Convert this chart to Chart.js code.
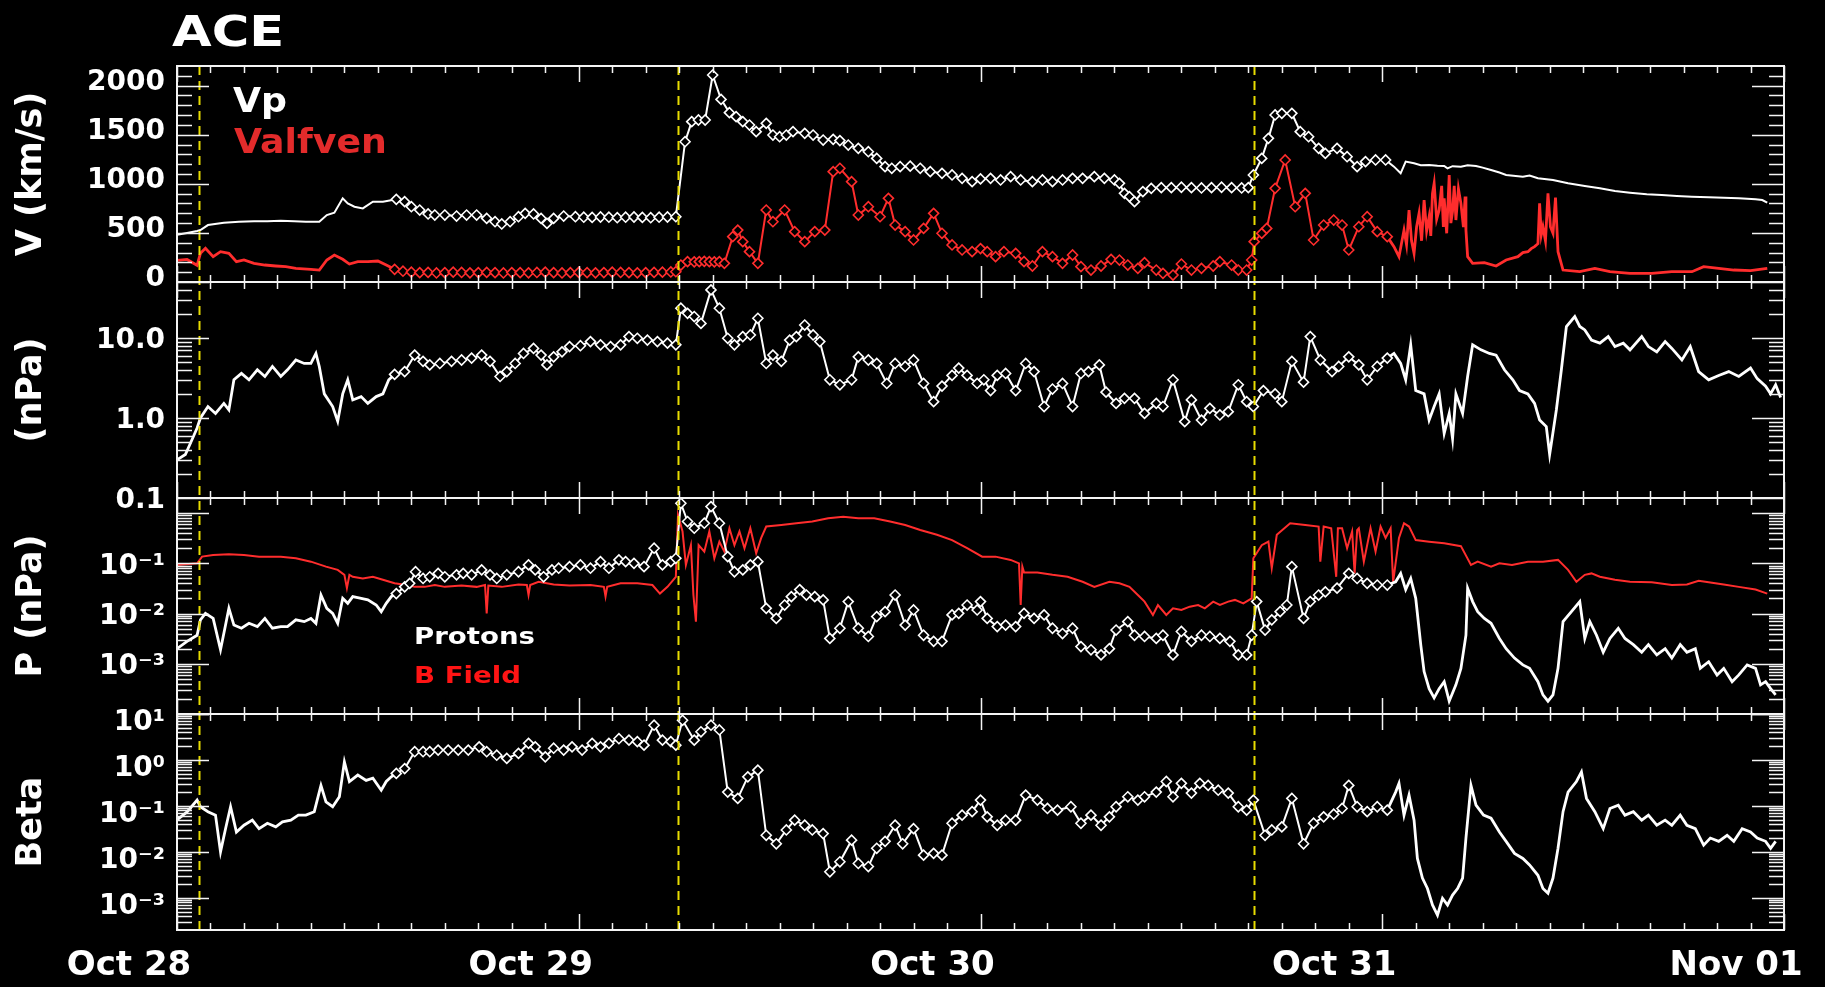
<!DOCTYPE html>
<html>
<head>
<meta charset="utf-8">
<title>ACE solar wind, 28 Oct - 1 Nov</title>
<script src="https://cdn.jsdelivr.net/npm/chart.js@4.4.1/dist/chart.umd.min.js"></script>
<style>
  html, body { margin: 0; padding: 0; background: #000; }
  #wrap { position: relative; width: 1825px; height: 987px; background: #000; }
  canvas { display: block; }
</style>
</head>
<body>
<div id="wrap"><canvas id="ace" width="1825" height="987" style="width:1825px;height:987px"></canvas></div>
<script>
// Time axis: hours since Oct 28 00:00 UT
const dayHours = [0, 24, 48, 72, 96];
const dayLabels = ['Oct 28', 'Oct 29', 'Oct 30', 'Oct 31', 'Nov 01'];

// Shock / discontinuity arrival times (hours)
const shockHours = [1.33, 29.9, 64.33];

// Interval in which the plotted samples carry diamond markers (hours)
const markedSpan = [12.95, 72.35];

// Proton bulk speed Vp (km/s): [hour, value]
const vpSamples = [
  [0,480],[0.6,500],[1.2,520],[1.4,530],[1.85,580],[2.8,604],[3.7,614],[4.6,620],[5.4,618],[6.2,625],[7.0,620],[7.7,614],[8.5,614],[8.95,682],[9.4,706],[9.9,852],[10.2,801],[10.6,767],[11.1,750],[11.7,818],[12.3,818],
  [13.1,842],[13.6,818],[14.0,767],[14.5,733],[15.0,693],[15.4,682],[16.0,682],[16.7,672],[17.3,682],[17.9,682],[18.5,648],[19.0,614],[19.4,591],[19.9,614],[20.4,665],[20.8,699],[21.3,693],[21.75,648],[22.1,597],[22.5,648],[23.1,672],[23.8,665],[24.3,660],[24.8,658],[25.3,662],[25.8,660],[26.3,655],[26.8,660],[27.3,662],[27.8,658],[28.3,655],[28.8,660],[29.3,662],[29.8,665],
  [30.35,1429],[30.75,1633],[31.15,1650],[31.55,1650],[32.0,2108],[32.5,1860],[33.0,1725],[33.4,1684],[33.8,1633],[34.2,1599],[34.6,1531],[35.2,1616],[35.6,1497],[36.0,1480],[36.4,1497],[36.8,1531],[37.5,1514],[38.0,1497],[38.6,1446],[39.2,1453],[39.6,1440],[40.1,1395],[40.7,1361],[41.3,1327],[41.8,1259],[42.3,1175],[42.7,1158],[43.2,1175],[43.8,1180],[44.4,1158],[45.0,1124],[45.7,1107],[46.3,1090],[46.9,1056],[47.5,1022],[48.0,1050],
  [48.6,1056],[49.2,1039],[49.8,1073],[50.4,1039],[51.1,1022],[51.7,1039],[52.3,1022],[52.9,1039],[53.5,1056],[54.1,1056],[54.8,1073],[55.4,1056],[56.0,1039],[56.3,1005],[56.6,903],[56.9,869],[57.2,818],[57.7,920],[58.2,954],[58.8,961],[59.4,961],[60.0,965],[60.6,961],[61.2,958],[61.8,961],[62.4,965],[63.0,961],[63.6,958],[64.0,961],[64.3,1090],
  [64.8,1259],[65.2,1463],[65.6,1701],[66.0,1718],[66.6,1718],[67.1,1531],[67.6,1480],[68.2,1361],[68.6,1310],[69.3,1361],[69.9,1276],[70.5,1175],[71.0,1226],[71.6,1243],[72.2,1243],
  [72.7,1175],[73.1,1107],[73.4,1226],[73.9,1209],[74.3,1190],[74.8,1192],[75.3,1185],[75.7,1182],[75.9,1158],[76.2,1180],[76.7,1175],[77.1,1190],[77.6,1182],[78.0,1165],[78.5,1141],[79.0,1115],[79.4,1090],[80.4,1073],[80.8,1085],[81.3,1056],[82.2,1039],[83.1,1005],[84.1,978],[85.0,954],[85.9,927],[86.8,910],[87.8,893],[88.7,886],[89.6,876],[90.5,869],[91.5,862],[92.4,859],[93.3,852],[94.3,842],[94.7,835],[95.0,808]
];

// Alfven speed (km/s): [hour, value]
const vaSamples = [
  [0,220],[0.6,230],[1.2,170],[1.4,292],[1.7,343],[2.16,258],[2.6,309],[3.1,292],[3.55,207],[4.0,224],[4.6,190],[5.25,173],[5.9,163],[6.5,156],[7.1,139],[8.0,129],[8.5,122],[8.95,224],[9.4,275],[9.9,231],[10.3,183],[10.8,207],[11.4,207],[12.0,214],[12.5,173],
  [13.0,129],[13.5,110],[14.0,100],[14.5,95],[15.0,98],[15.5,92],[16.0,95],[16.5,100],[17.0,97],[17.5,93],[18.0,95],[18.5,98],[19.0,95],[19.5,92],[20.0,96],[20.5,95],[21.0,93],[21.5,97],[22.0,100],[22.5,95],[23.0,92],[23.5,95],[24.0,98],[24.5,95],[25.0,93],[25.5,96],[26.0,100],[26.5,97],[27.0,95],[27.5,93],[28.0,95],[28.5,98],[29.0,100],[29.5,102],[29.8,105],
  [30.1,173],[30.5,207],[30.9,205],[31.2,207],[31.5,210],[31.8,207],[32.1,205],[32.4,207],[32.7,190],[33.2,462],[33.5,529],[33.8,411],[34.2,309],[34.7,190],[35.2,733],[35.6,614],[36.3,733],[36.9,513],[37.5,411],[38.1,513],[38.7,529],[39.2,1124],[39.6,1158],[40.3,1022],[40.7,682],[41.3,767],[42.0,665],[42.5,852],[42.9,580],[43.5,513],[44.0,428],[44.6,546],[45.2,699],[45.7,496],[46.3,377],[46.9,326],[47.5,309],[48.0,340],
  [48.4,309],[48.9,258],[49.4,309],[50.1,292],[50.6,207],[51.1,163],[51.7,309],[52.3,258],[52.9,190],[53.5,275],[54.0,156],[54.6,122],[55.2,163],[55.8,231],[56.3,224],[56.8,173],[57.4,139],[57.8,197],[58.5,122],[58.9,88],[59.5,71],[60.0,183],[60.6,122],[61.2,139],[61.9,163],[62.3,207],[63.0,173],[63.4,122],[63.9,122],[64.2,224],
  [64.35,411],[64.8,495],[65.1,546],[65.6,954],[66.2,1243],[66.8,767],[67.4,903],[67.9,428],[68.5,580],[69.1,631],[69.6,580],[70.0,326],[70.6,563],[71.1,665],[71.7,513],[72.3,462],
  [72.7,360],[73.0,258],[73.3,529],[73.45,380],[73.6,733],[73.75,420],[73.9,292],[74.05,560],[74.2,699],[74.35,420],[74.5,835],[74.65,520],[74.8,665],[74.9,470],[75.0,900],[75.1,1005],[75.25,640],[75.4,733],[75.55,980],[75.65,560],[75.7,852],[75.85,496],[76.0,1090],[76.1,600],[76.2,720],[76.3,980],[76.4,631],[76.55,950],[76.7,801],[76.85,560],[76.95,870],[77.0,529],[77.1,258],[77.4,190],[78.1,197],[78.8,163],[79.4,224],[80.1,258],[80.4,300],[80.7,309],[80.9,340],[81.1,360],[81.3,390],[81.4,801],[81.5,480],[81.6,563],[81.75,420],[81.9,903],[82.05,560],[82.2,496],[82.35,860],[82.5,309],[82.8,122],[83.8,105],[84.7,139],[85.6,105],[86.8,88],[88.1,88],[89.3,105],[90.5,105],[91.2,156],[92.1,139],[93.0,122],[94.0,115],[95.0,139]
];

// Total (dynamic) pressure (nPa): [hour, value]
const pdynSamples = [
  [0,0.30],[0.5,0.35],[1.0,0.6],[1.2,0.75],[1.4,1.0],[1.85,1.39],[2.3,1.14],[2.8,1.52],[3.1,1.26],[3.4,3.0],[3.85,3.6],[4.3,3.0],[4.8,4.0],[5.25,3.3],[5.7,4.4],[6.2,3.3],[6.6,4.0],[7.1,5.3],[7.6,4.8],[8.0,4.8],[8.3,6.4],[8.5,4.4],[8.8,2.0],[9.3,1.39],[9.6,0.91],[9.9,2.0],[10.2,3.0],[10.5,1.68],[11.0,1.85],[11.4,1.52],[11.9,1.85],[12.3,2.0],[12.65,3.0],
  [13.0,3.5],[13.6,3.8],[14.2,6.1],[14.7,5.1],[15.1,4.6],[15.7,4.8],[16.4,5.1],[17.0,5.3],[17.6,5.6],[18.2,6.1],[18.7,5.1],[19.3,3.3],[19.7,3.8],[20.2,4.8],[20.7,6.4],[21.3,7.4],[21.75,6.1],[22.1,4.6],[22.5,5.8],[23.0,6.7],[23.45,7.8],[24.1,8.0],[24.7,9.0],[25.3,8.2],[25.9,7.8],[26.5,8.2],[27.0,10.4],[27.5,9.9],[28.1,9.4],[28.7,9.0],[29.3,8.6],[29.8,8.2],
  [30.1,23.5],[30.5,20.3],[30.9,18.5],[31.3,15.2],[31.9,39.8],[32.4,23.5],[32.9,9.9],[33.3,8.2],[33.8,10.4],[34.25,10.9],[34.7,17.6],[35.2,4.8],[35.6,6.1],[36.1,5.1],[36.6,9.4],[37.0,10.4],[37.5,14.5],[38.0,10.9],[38.4,9.0],[39.0,3.0],[39.6,2.6],[40.3,3.0],[40.7,5.8],[41.3,5.3],[41.8,4.8],[42.4,2.7],[42.9,4.8],[43.5,4.4],[44.0,5.3],[44.6,2.7],[45.2,1.6],[45.7,2.5],[46.3,3.4],[46.7,4.2],[47.2,3.4],[47.8,2.7],
  [48.2,3.0],[48.6,2.2],[49.0,3.4],[49.5,3.6],[50.1,2.2],[50.7,4.8],[51.2,3.8],[51.8,1.39],[52.3,2.3],[52.9,2.7],[53.5,1.39],[54.0,3.6],[54.45,3.8],[55.1,4.6],[55.5,2.1],[56.1,1.52],[56.6,1.76],[57.2,1.76],[57.8,1.14],[58.5,1.52],[58.9,1.39],[59.5,3.0],[60.2,0.9],[60.6,1.68],[61.2,0.94],[61.7,1.32],[62.3,1.09],[62.8,1.2],[63.4,2.6],[63.9,1.6],[64.3,1.39],[64.9,2.2],[65.6,2.0],[66.0,1.6],[66.6,5.1],[67.3,2.8],[67.7,10.4],[68.3,5.3],[69.0,3.8],[69.4,4.4],[70.0,5.8],[70.6,4.6],[71.1,3.0],[71.7,4.4],[72.3,5.6],
  [72.7,6.4],[73.1,4.8],[73.4,3.0],[73.7,8.2],[74.0,2.2],[74.5,2.0],[74.8,0.94],[75.1,1.39],[75.4,2.0],[75.7,0.64],[76.0,1.14],[76.2,0.55],[76.4,2.0],[76.8,1.14],[77.1,3.3],[77.4,8.2],[77.9,7.1],[78.4,6.4],[78.8,6.1],[79.3,4.0],[79.8,3.0],[80.2,2.2],[80.7,2.0],[81.1,1.52],[81.4,0.94],[81.8,0.78],[82.0,0.35],[82.1,0.48],[82.4,1.26],[82.7,4.0],[83.0,13.9],[83.5,18.5],[83.8,13.9],[84.1,12.6],[84.5,9.4],[85.0,8.6],[85.5,10.4],[85.9,7.8],[86.4,8.6],[86.8,7.1],[87.5,10.4],[87.9,7.8],[88.4,6.7],[88.9,9.0],[89.3,7.4],[89.9,5.3],[90.4,7.8],[90.9,3.8],[91.5,3.0],[92.1,3.4],[92.7,3.8],[93.3,3.3],[94.0,4.2],[94.4,3.1],[94.9,2.5],[95.2,2.0],[95.5,2.6],[95.8,1.8]
];

// Proton thermal pressure (nPa): [hour, value]
const protonSamples = [
  [0,0.0020],[0.6,0.0028],[1.2,0.0037],[1.4,0.0075],[1.7,0.0101],[2.16,0.0080],[2.6,0.0019],[2.9,0.0059],[3.1,0.0127],[3.4,0.0059],[3.85,0.0051],[4.3,0.0064],[4.8,0.0055],[5.25,0.0080],[5.7,0.0051],[6.2,0.0055],[6.6,0.0055],[7.1,0.0075],[7.6,0.0069],[8.0,0.0080],[8.3,0.0064],[8.6,0.0234],[8.95,0.0127],[9.3,0.0101],[9.6,0.0064],[9.9,0.0201],[10.2,0.016],[10.5,0.0217],[11.0,0.0201],[11.4,0.0187],[11.9,0.0148],[12.2,0.0109],[12.5,0.016],[12.8,0.0217],
  [13.1,0.025],[13.6,0.034],[13.9,0.040],[14.25,0.068],[14.7,0.050],[15.1,0.054],[15.6,0.063],[16.0,0.054],[16.7,0.059],[17.1,0.063],[17.6,0.059],[18.2,0.074],[18.7,0.059],[19.1,0.050],[19.7,0.059],[20.4,0.068],[21.0,0.093],[21.4,0.074],[21.9,0.054],[22.4,0.074],[22.8,0.080],[23.45,0.086],[24.1,0.093],[24.7,0.080],[25.3,0.108],[25.8,0.080],[26.4,0.117],[26.8,0.108],[27.3,0.100],[27.9,0.086],[28.5,0.20],[29.0,0.093],[29.5,0.108],[29.8,0.126],
  [30.1,1.57],[30.5,0.68],[30.9,0.50],[31.5,0.63],[31.9,1.35],[32.4,0.63],[32.9,0.136],[33.3,0.068],[33.8,0.074],[34.25,0.093],[34.7,0.108],[35.2,0.0127],[35.8,0.0080],[36.3,0.0148],[36.7,0.0217],[37.2,0.030],[37.6,0.0234],[38.1,0.0217],[38.6,0.0187],[39.0,0.0032],[39.6,0.0051],[40.1,0.0173],[40.7,0.0051],[41.3,0.0035],[41.8,0.0087],[42.3,0.0109],[42.9,0.0234],[43.5,0.0059],[44.0,0.0118],[44.6,0.0037],[45.2,0.0028],[45.7,0.0028],[46.3,0.0094],[46.7,0.0101],[47.2,0.0148],[47.8,0.0118],[48.0,0.0173],
  [48.4,0.0080],[49.0,0.0055],[49.5,0.0059],[50.1,0.0055],[50.6,0.0101],[51.2,0.0080],[51.8,0.0094],[52.3,0.0051],[52.9,0.0040],[53.5,0.0051],[54.0,0.0022],[54.6,0.0019],[55.2,0.0015],[55.7,0.0020],[56.1,0.0047],[56.8,0.0069],[57.2,0.0037],[57.8,0.0035],[58.5,0.0032],[58.9,0.0037],[59.5,0.0015],[60.0,0.0044],[60.6,0.0028],[61.2,0.0037],[61.7,0.0035],[62.3,0.0032],[62.9,0.0028],[63.4,0.0015],[63.9,0.0015],[64.2,0.0037],[64.5,0.0173],[65.0,0.0047],[65.4,0.0075],[65.9,0.0109],[66.3,0.0148],[66.6,0.086],[67.3,0.0080],[67.7,0.0173],[68.2,0.0234],[68.6,0.027],[69.3,0.032],[70.0,0.063],[70.5,0.050],[71.1,0.040],[71.7,0.037],[72.3,0.037],
  [72.8,0.043],[73.1,0.063],[73.4,0.030],[73.7,0.050],[74.0,0.0201],[74.3,0.0024],[74.5,0.00070],[74.8,0.00032],[75.1,0.00021],[75.4,0.00032],[75.7,0.00044],[76.0,0.00018],[76.4,0.00038],[76.7,0.00081],[77.0,0.0037],[77.1,0.032],[77.4,0.0173],[77.7,0.0109],[78.1,0.0080],[78.5,0.0064],[79.0,0.0032],[79.4,0.0020],[79.9,0.0013],[80.4,0.00095],[80.8,0.00081],[81.3,0.00044],[81.6,0.00024],[81.9,0.00018],[82.2,0.00024],[82.5,0.00081],[82.8,0.0069],[83.3,0.0109],[83.8,0.0173],[84.1,0.0032],[84.4,0.0069],[84.8,0.0037],[85.2,0.0017],[85.6,0.0032],[86.1,0.0051],[86.5,0.0032],[87.0,0.0024],[87.5,0.0017],[87.9,0.0024],[88.4,0.0015],[88.9,0.0020],[89.3,0.0013],[89.8,0.0024],[90.2,0.0017],[90.7,0.0020],[91.0,0.00081],[91.5,0.0011],[92.0,0.00060],[92.4,0.00081],[92.9,0.00044],[93.3,0.00060],[93.8,0.00095],[94.3,0.00081],[94.6,0.00038],[94.9,0.00044],[95.2,0.00032],[95.5,0.00024]
];

// Magnetic pressure (nPa): [hour, value]
const bfieldSamples = [
  [0,0.093],[1.2,0.100],[1.5,0.136],[2.16,0.147],[3.1,0.152],[4.0,0.147],[4.9,0.136],[6.2,0.136],[7.1,0.126],[8.0,0.108],[8.9,0.086],[9.6,0.074],[10.0,0.059],[10.15,0.032],[10.3,0.059],[10.5,0.054],[11.1,0.050],[11.7,0.054],[12.3,0.047],[13.0,0.040],[13.7,0.037],[14.2,0.034],[14.8,0.034],[15.4,0.037],[16.0,0.034],[17.0,0.036],[17.9,0.034],[18.4,0.037],[18.5,0.0101],[18.6,0.036],[19.4,0.034],[20.4,0.038],[20.9,0.037],[21.0,0.0234],[21.1,0.037],[21.6,0.043],[22.5,0.038],[23.45,0.036],[24.7,0.037],[25.5,0.034],[25.6,0.0217],[25.7,0.034],[26.5,0.040],[27.5,0.040],[28.4,0.037],[28.85,0.025],[29.3,0.034],[29.8,0.054],
  [29.93,0.92],[30.2,0.43],[30.4,0.093],[30.7,0.23],[30.85,0.0234],[31.0,0.0069],[31.16,0.23],[31.5,0.171],[31.8,0.43],[32.1,0.126],[32.4,0.27],[32.7,0.171],[33.0,0.50],[33.3,0.23],[33.6,0.43],[33.9,0.20],[34.25,0.50],[34.6,0.159],[34.9,0.32],[35.2,0.54],[36.1,0.58],[37.0,0.63],[37.95,0.68],[38.9,0.79],[39.8,0.85],[40.7,0.79],[41.65,0.79],[42.6,0.68],[43.5,0.58],[44.4,0.46],[45.4,0.37],[46.3,0.29],[47.2,0.20],[48.1,0.136],
  [48.9,0.136],[49.8,0.117],[50.3,0.100],[50.4,0.0148],[50.5,0.086],[50.6,0.066],[51.4,0.066],[52.3,0.059],[53.2,0.054],[54.1,0.043],[54.8,0.034],[55.7,0.043],[56.3,0.040],[56.9,0.034],[57.4,0.0234],[57.8,0.0173],[58.3,0.0094],[58.6,0.0148],[59.1,0.0094],[59.5,0.0127],[60.0,0.0118],[60.5,0.0137],[61.0,0.0148],[61.4,0.0127],[61.9,0.0173],[62.3,0.0148],[62.8,0.0173],[63.2,0.0187],[63.7,0.016],[64.2,0.0201],
  [64.3,0.126],[64.8,0.23],[65.2,0.27],[65.4,0.080],[65.7,0.37],[66.5,0.63],[67.4,0.58],[68.2,0.54],[68.3,0.108],[68.5,0.54],[68.95,0.50],[69.25,0.054],[69.35,0.50],[69.6,0.50],[69.9,0.20],[70.2,0.43],[70.35,0.063],[70.5,0.46],[70.6,0.50],[70.9,0.108],[71.3,0.50],[71.6,0.171],[71.9,0.54],[72.2,0.32],[72.5,0.50],[72.65,0.043],[73.0,0.32],[73.3,0.63],[73.6,0.54],[74.0,0.29],[74.8,0.27],[75.7,0.25],[76.7,0.22],[77.3,0.093],[77.7,0.108],[78.5,0.086],[79.0,0.100],[79.75,0.093],[80.7,0.108],[81.6,0.108],[82.5,0.117],[83.1,0.074],[83.6,0.043],[84.1,0.059],[84.5,0.063],[85.0,0.054],[85.9,0.047],[86.8,0.043],[88.1,0.042],[89.3,0.037],[90.2,0.038],[90.9,0.045],[91.5,0.042],[92.4,0.038],[93.3,0.034],[94.3,0.030],[95.0,0.025]
];

// Plasma beta: [hour, value]
const betaSamples = [
  [0,0.050],[0.6,0.074],[1.2,0.134],[1.4,0.096],[1.85,0.075],[2.3,0.063],[2.6,0.010],[2.9,0.032],[3.2,0.096],[3.55,0.027],[4.0,0.038],[4.5,0.049],[4.9,0.032],[5.4,0.042],[5.9,0.035],[6.3,0.045],[6.8,0.049],[7.25,0.063],[7.7,0.063],[8.2,0.075],[8.6,0.28],[8.9,0.123],[9.3,0.096],[9.7,0.158],[10.0,0.91],[10.3,0.34],[10.8,0.47],[11.3,0.36],[11.7,0.40],[12.2,0.22],[12.5,0.34],[12.8,0.43],
  [13.1,0.51],[13.6,0.65],[14.2,1.51],[14.7,1.51],[15.1,1.51],[15.6,1.64],[16.2,1.64],[16.8,1.64],[17.4,1.64],[18.05,1.93],[18.5,1.51],[19.1,1.27],[19.7,1.08],[20.4,1.39],[21.0,2.3],[21.4,1.93],[22.0,1.17],[22.5,1.8],[23.1,1.64],[23.6,1.93],[24.2,1.64],[24.8,2.3],[25.3,1.93],[25.8,2.3],[26.4,2.9],[27.0,2.7],[27.5,2.5],[27.9,2.1],[28.5,5.7],[29.0,2.7],[29.5,2.5],[29.8,2.1],
  [30.2,7.3],[30.9,2.7],[31.3,4.1],[31.9,5.7],[32.4,4.5],[32.9,0.20],[33.5,0.146],[34.1,0.43],[34.7,0.60],[35.2,0.023],[35.8,0.015],[36.4,0.030],[36.9,0.049],[37.5,0.038],[37.95,0.030],[38.6,0.025],[39.0,0.0037],[39.6,0.0061],[40.3,0.018],[40.7,0.0056],[41.3,0.0048],[41.8,0.012],[42.3,0.017],[42.9,0.038],[43.35,0.015],[44.0,0.032],[44.6,0.0085],[45.2,0.0093],[45.7,0.0085],[46.3,0.042],[46.9,0.063],[47.5,0.075],[48.0,0.134],
  [48.4,0.058],[49.0,0.038],[49.5,0.049],[50.1,0.049],[50.7,0.172],[51.4,0.134],[52.0,0.088],[52.6,0.081],[53.4,0.096],[54.0,0.042],[54.6,0.063],[55.2,0.038],[55.7,0.058],[56.1,0.096],[56.8,0.158],[57.4,0.134],[57.8,0.158],[58.5,0.20],[59.1,0.34],[59.5,0.158],[60.0,0.31],[60.6,0.19],[61.1,0.31],[61.6,0.28],[62.2,0.22],[62.8,0.19],[63.4,0.096],[63.9,0.081],[64.3,0.134],[65.0,0.023],[65.4,0.030],[66.0,0.035],[66.6,0.146],[67.3,0.015],[67.9,0.042],[68.5,0.058],[69.1,0.066],[69.6,0.088],[70.0,0.28],[70.5,0.096],[71.1,0.075],[71.7,0.096],[72.3,0.081],
  [72.8,0.20],[73.0,0.31],[73.3,0.063],[73.6,0.172],[73.9,0.049],[74.1,0.0072],[74.4,0.0027],[74.7,0.0016],[75.0,0.0007],[75.3,0.00042],[75.6,0.00098],[75.9,0.0007],[76.2,0.00115],[76.5,0.0016],[76.8,0.0027],[77.0,0.02],[77.3,0.28],[77.6,0.104],[78.05,0.063],[78.5,0.054],[79.0,0.027],[79.4,0.017],[79.9,0.0093],[80.4,0.0072],[80.8,0.0052],[81.3,0.0031],[81.6,0.0016],[81.9,0.00126],[82.2,0.0027],[82.5,0.012],[82.8,0.075],[83.1,0.20],[83.6,0.34],[83.9,0.55],[84.2,0.146],[84.7,0.075],[85.2,0.032],[85.6,0.088],[86.1,0.104],[86.5,0.063],[87.0,0.075],[87.5,0.049],[87.9,0.063],[88.4,0.038],[88.9,0.049],[89.3,0.038],[89.8,0.063],[90.2,0.038],[90.7,0.032],[91.2,0.014],[91.6,0.020],[92.1,0.017],[92.6,0.023],[93.0,0.017],[93.5,0.032],[94.0,0.027],[94.4,0.020],[94.9,0.017],[95.2,0.012],[95.5,0.017]
];

// Labelled tick values per panel
const speedTicks = [0, 500, 1000, 1500, 2000];
const pdynTicks = [0.1, 1, 10];
const pressTicks = [1e-3, 1e-2, 1e-1];
const betaTicks = [1e-3, 1e-2, 1e-1, 1, 10];

const WHITE = '#ffffff';
const RED = '#ff2d2d';
const FONT = 'DejaVu Sans';

Chart.defaults.font.family = FONT;

const SUP = { '-': '\u207B', '0': '\u2070', '1': '\u00B9', '2': '\u00B2', '3': '\u00B3', '4': '\u2074' };
const powLabel = v => '10' + String(Math.round(Math.log10(v))).split('').map(c => SUP[c]).join('');

const inSpan = t => t >= markedSpan[0] && t <= markedSpan[1];

// High-cadence (unmarked) stretches of the noisier series are stroked a little heavier
function lineSet(label, samples, axis, color, marked, heavy) {
  return {
    label,
    data: samples.map(([t, v]) => ({ x: t, y: v })),
    yAxisID: axis,
    borderColor: color,
    borderWidth: 2,
    segment: heavy ? {
      borderWidth: s => (inSpan(s.p0.parsed.x) && inSpan(s.p1.parsed.x)) ? 2 : 2.8
    } : undefined,
    pointStyle: 'rectRot',
    pointRadius: marked ? (c => (c.raw && inSpan(c.raw.x) ? 5 : 0)) : 0,
    pointHoverRadius: 0,
    pointBorderColor: color,
    pointBackgroundColor: '#000',
    pointBorderWidth: 1.6,
    tension: 0,
    fill: false
  };
}

const tickFont = { family: FONT, size: 28, weight: 'bold' };
const titleFont = { family: FONT, size: 35, weight: 'bold' };

function panelAxis(title, weight, type, min, max, values, fmt, labelOffset) {
  return {
    type, min, max,
    position: 'left',
    stack: 'panels',
    stackWeight: 1,
    weight,
    grid: { display: false, drawTicks: false },
    border: { display: false },
    afterBuildTicks(s) { s.ticks = values.map(v => ({ value: v })); },
    ticks: {
      color: WHITE, font: tickFont, padding: 12, autoSkip: false,
      maxRotation: 0, labelOffset, callback: v => fmt(v)
    },
    title: { display: true, text: title, color: WHITE, font: titleFont, padding: { top: 11, bottom: 0 } },
    afterFit(s) { s.width = 177; s.paddingTop = 0; s.paddingBottom = 0; }
  };
}

// Inward tick marks, panel frames and shock markers
function minorLinear(step, max, majorStep) {
  const out = [];
  for (let v = step; v < max; v += step) if (v % majorStep) out.push(v);
  return out;
}
function minorLog(lo, hi) {
  const out = [];
  for (let e = Math.floor(Math.log10(lo)); e <= Math.ceil(Math.log10(hi)); e++) {
    for (let m = 2; m <= 9; m++) {
      const v = m * Math.pow(10, e);
      if (v > lo && v < hi) out.push(v);
    }
  }
  return out;
}
const panelMarks = [
  { id: 'ySpeed', major: speedTicks, minor: minorLinear(100, 2200, 500) },
  { id: 'yPdyn', major: [0.1, 1, 10], minor: minorLog(0.1, 50) },
  { id: 'yPress', major: [1e-4, 1e-3, 1e-2, 1e-1, 1], minor: minorLog(1e-4, 2) },
  { id: 'yBeta', major: [1e-3, 1e-2, 1e-1, 1, 10], minor: minorLog(2e-4, 10) }
];

// Text drawn with a slight horizontal stretch, like the plot's wide lettering
function wideText(ctx, text, x, y, size, color, stretch) {
  ctx.save();
  ctx.font = `bold ${size}px "${FONT}"`;
  ctx.fillStyle = color;
  ctx.textAlign = 'left';
  ctx.textBaseline = 'alphabetic';
  ctx.translate(x, y);
  ctx.scale(stretch, 1);
  ctx.fillText(text, 0, 0);
  ctx.restore();
}

const framePlugin = {
  id: 'panelFrames',
  beforeDraw(chart) {
    const { ctx } = chart;
    ctx.save();
    ctx.fillStyle = '#000';
    ctx.fillRect(0, 0, chart.width, chart.height);
    ctx.restore();
  },
  afterDatasetsDraw(chart) {
    const { ctx, chartArea: a, scales } = chart;
    const xs = scales.x;
    ctx.save();
    // shock arrival lines
    ctx.strokeStyle = '#e8dc00';
    ctx.lineWidth = 2;
    ctx.setLineDash([9, 6]);
    shockHours.forEach(h => {
      const x = Math.round(xs.getPixelForValue(h)) + 0.5;
      ctx.beginPath(); ctx.moveTo(x, a.top); ctx.lineTo(x, a.bottom); ctx.stroke();
    });
    ctx.setLineDash([]);

    ctx.strokeStyle = '#f4f4f4';
    panelMarks.forEach(p => {
      const s = scales[p.id];
      const top = s.top, bot = s.bottom;
      ctx.lineWidth = 1.5;
      ctx.beginPath();
      const seg = (x1, y1, x2, y2) => { ctx.moveTo(x1, y1); ctx.lineTo(x2, y2); };
      p.major.forEach(v => {
        const y = Math.round(s.getPixelForValue(v)) + 0.5;
        seg(a.left, y, a.left + 32, y); seg(a.right, y, a.right - 32, y);
      });
      p.minor.forEach(v => {
        const y = Math.round(s.getPixelForValue(v)) + 0.5;
        seg(a.left, y, a.left + 15, y); seg(a.right, y, a.right - 15, y);
      });
      for (let h = 0; h <= 96; h += 2) {
        const x = Math.round(xs.getPixelForValue(h)) + 0.5;
        const len = h % 24 ? 7 : 16;
        seg(x, top, x, top + len); seg(x, bot, x, bot - len);
      }
      ctx.stroke();
      ctx.lineWidth = 2;
      ctx.strokeRect(a.left, top, a.right - a.left, bot - top);
    });
    ctx.restore();
  },
  afterDraw(chart) {
    const { ctx } = chart;
    wideText(ctx, 'ACE', 172, 46, 42, WHITE, 1.22);
    wideText(ctx, 'Vp', 233, 112, 33, WHITE, 1.1);
    wideText(ctx, 'Valfven', 234, 153, 33, '#e32b2b', 1.1);
    wideText(ctx, 'Protons', 414, 644, 23, WHITE, 1.2);
    wideText(ctx, 'B Field', 414, 683, 23, '#ff1414', 1.2);
  }
};

new Chart(document.getElementById('ace'), {
  type: 'line',
  data: {
    datasets: [
      lineSet('Vp', vpSamples, 'ySpeed', WHITE, true, false),
      lineSet('Valfven', vaSamples, 'ySpeed', RED, true, true),
      lineSet('P', pdynSamples, 'yPdyn', WHITE, true, true),
      lineSet('Protons', protonSamples, 'yPress', WHITE, true, true),
      lineSet('B Field', bfieldSamples, 'yPress', RED, false, false),
      lineSet('Beta', betaSamples, 'yBeta', WHITE, true, true)
    ]
  },
  options: {
    responsive: false,
    devicePixelRatio: 1,
    animation: false,
    events: [],
    layout: { padding: { top: 66, right: 41, left: 0, bottom: 0 } },
    plugins: { legend: { display: false }, tooltip: { enabled: false }, title: { display: false } },
    scales: {
      x: {
        type: 'linear', min: 0, max: 96, position: 'bottom',
        grid: { display: false, drawTicks: false },
        border: { display: false },
        afterBuildTicks(s) { s.ticks = dayHours.map(v => ({ value: v })); },
        ticks: {
          color: WHITE, font: { family: FONT, size: 34, weight: 'bold' },
          padding: 16, autoSkip: false, maxRotation: 0, labelOffset: -48,
          callback: (v, i) => dayLabels[i]
        },
        afterFit(s) { s.height = 57; s.paddingLeft = 0; s.paddingRight = 0; }
      },
      ySpeed: panelAxis('V (km/s)', 4, 'linear', 0, 2200, speedTicks, v => String(v), -3),
      yPdyn: panelAxis('(nPa)', 3, 'logarithmic', 0.1, 50, pdynTicks, v => v.toFixed(1), 3),
      yPress: panelAxis('P (nPa)', 2, 'logarithmic', 1e-4, 2, pressTicks, powLabel, 3),
      yBeta: panelAxis('Beta', 1, 'logarithmic', 2e-4, 10, betaTicks, powLabel, 9)
    }
  },
  plugins: [framePlugin]
});
</script>
</body>
</html>
